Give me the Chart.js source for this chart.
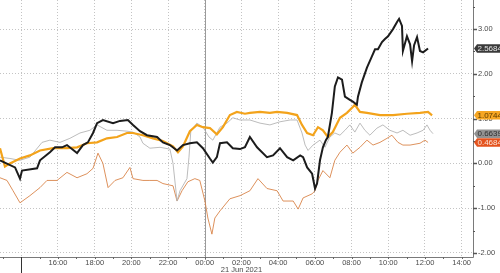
<!DOCTYPE html>
<html>
<head>
<meta charset="utf-8">
<script src="https://cdn.jsdelivr.net/npm/chart.js@4/dist/chart.umd.min.js"></script>
<style>
  html, body { margin: 0; padding: 0; background: #fff; }
  #wrap { width: 500px; height: 273px; }
</style>
</head>
<body>
<div id="wrap"><canvas id="chart" width="500" height="273"></canvas></div>
<script>
// times are hours counted from 20 Jun 2021 00:00 (so 24 = 21 Jun 00:00)
const blackT = [12.84, 13.66, 13.93, 14.04, 14.86, 15.02, 15.56, 15.84, 16.22, 16.49, 17.04, 17.36, 17.63, 17.91, 18.13, 18.45, 19.00, 19.38, 19.81, 20.09, 20.47, 20.85, 21.40, 21.72, 22.10, 22.49, 22.81, 23.19, 23.57, 23.90, 24.28, 24.44, 24.66, 24.83, 25.21, 25.53, 25.92, 26.19, 26.46, 26.85, 27.39, 27.72, 28.10, 28.49, 28.82, 29.20, 29.36, 29.58, 29.85, 30.01, 30.12, 30.28, 30.44, 30.60, 30.71, 30.93, 31.09, 31.26, 31.48, 31.64, 31.91, 32.07, 32.29, 32.35, 32.56, 32.84, 33.11, 33.28, 33.44, 33.66, 33.82, 33.99, 34.26, 34.48, 34.59, 34.75, 34.80, 35.02, 35.19, 35.30, 35.41, 35.57, 35.73, 35.90, 36.17];
const blackV = [0.07, -0.09, -0.34, -0.16, -0.11, 0.07, 0.25, 0.36, 0.36, 0.41, 0.23, 0.41, 0.47, 0.68, 0.90, 0.97, 0.90, 0.95, 0.97, 0.86, 0.72, 0.63, 0.59, 0.47, 0.41, 0.29, 0.41, 0.45, 0.47, 0.34, 0.11, 0.02, 0.14, 0.45, 0.47, 0.34, 0.32, 0.36, 0.59, 0.36, 0.14, 0.18, 0.34, 0.14, 0.07, 0.18, 0.14, -0.09, -0.23, -0.56, -0.45, 0.07, 0.36, 0.52, 0.59, 1.13, 1.72, 1.92, 1.87, 1.49, 1.42, 1.38, 1.31, 1.49, 1.81, 2.14, 2.39, 2.55, 2.55, 2.71, 2.78, 2.84, 3.00, 3.16, 3.23, 3.07, 2.51, 2.84, 2.66, 2.28, 2.64, 2.82, 2.51, 2.48, 2.5684];

const orangeT = [12.84, 13.11, 13.38, 13.93, 14.47, 15.02, 15.73, 16.49, 17.04, 17.58, 18.13, 18.67, 19.22, 19.76, 20.09, 20.63, 21.18, 21.72, 22.27, 22.54, 22.81, 23.19, 23.57, 23.90, 24.28, 24.66, 24.99, 25.37, 25.75, 26.19, 26.46, 27.01, 27.55, 27.94, 28.49, 29.03, 29.30, 29.58, 29.90, 30.17, 30.44, 30.71, 30.98, 31.37, 31.75, 32.07, 32.18, 32.46, 32.84, 33.55, 34.26, 35.02, 35.73, 36.17, 36.39];
const orangeV = [0.34, -0.07, 0.00, 0.11, 0.18, 0.29, 0.34, 0.34, 0.36, 0.45, 0.47, 0.56, 0.59, 0.68, 0.68, 0.63, 0.56, 0.50, 0.38, 0.25, 0.38, 0.72, 0.86, 0.81, 0.79, 0.65, 0.81, 1.08, 1.15, 1.11, 1.13, 1.15, 1.13, 1.15, 1.13, 1.08, 0.86, 0.68, 0.63, 0.81, 0.74, 0.59, 0.70, 1.02, 1.13, 1.26, 1.31, 1.15, 1.13, 1.08, 1.08, 1.11, 1.13, 1.15, 1.0744];

const grayT = [12.84, 13.38, 13.93, 14.47, 15.13, 15.56, 16.11, 16.65, 17.20, 17.74, 18.13, 18.67, 19.22, 19.76, 20.09, 20.47, 20.63, 21.01, 21.56, 22.10, 22.27, 22.49, 22.65, 23.03, 23.14, 23.24, 23.57, 23.90, 24.23, 24.44, 24.83, 25.21, 25.53, 25.92, 26.46, 27.01, 27.55, 28.10, 28.65, 29.03, 29.30, 29.47, 29.63, 29.90, 30.28, 30.55, 30.82, 31.09, 31.37, 31.64, 31.91, 32.18, 32.46, 32.73, 33.00, 33.39, 33.71, 34.09, 34.48, 34.80, 35.19, 35.57, 35.90, 36.11, 36.28, 36.44];
const grayV = [0.14, 0.11, 0.07, 0.14, 0.47, 0.52, 0.47, 0.56, 0.68, 0.74, 0.86, 0.74, 0.74, 0.72, 0.70, 0.59, 0.45, 0.34, 0.36, 0.32, 0.00, -0.84, -0.61, -0.34, 0.14, 0.72, 0.90, 0.81, 0.59, 0.52, 0.81, 0.90, 1.02, 0.97, 0.97, 0.90, 0.86, 0.93, 0.97, 0.97, 0.68, 0.41, 0.29, 0.41, 0.52, 0.36, 0.59, 0.68, 0.63, 0.74, 0.86, 0.70, 0.90, 0.74, 0.63, 0.79, 0.86, 0.74, 0.68, 0.74, 0.63, 0.68, 0.74, 0.86, 0.74, 0.6639];

const copperT = [12.84, 13.22, 13.55, 13.93, 14.47, 15.02, 15.40, 15.95, 16.49, 17.04, 17.58, 17.91, 18.18, 18.45, 18.73, 19.11, 19.54, 19.92, 20.09, 20.63, 21.01, 21.40, 21.72, 22.27, 22.49, 22.76, 23.08, 23.46, 23.73, 24.01, 24.17, 24.39, 24.55, 24.83, 25.37, 25.92, 26.46, 26.90, 27.39, 27.94, 28.27, 28.82, 29.09, 29.36, 29.85, 30.01, 30.17, 30.44, 30.82, 31.09, 31.37, 31.75, 32.07, 32.46, 32.84, 33.17, 33.55, 33.93, 34.20, 34.53, 34.80, 35.19, 35.73, 36.00, 36.17];
const copperV = [-0.32, -0.38, -0.61, -0.88, -0.72, -0.54, -0.38, -0.38, -0.20, -0.32, -0.23, -0.11, 0.23, 0.00, -0.54, -0.38, -0.32, -0.09, -0.34, -0.38, -0.38, -0.38, -0.45, -0.50, -0.84, -0.61, -0.41, -0.34, -0.38, -0.84, -1.22, -1.58, -1.22, -1.06, -0.79, -0.72, -0.61, -0.34, -0.56, -0.61, -0.84, -0.84, -1.02, -0.77, -0.68, -0.61, -0.38, -0.16, -0.32, 0.07, 0.25, 0.41, 0.23, 0.36, 0.52, 0.41, 0.47, 0.56, 0.63, 0.47, 0.41, 0.41, 0.45, 0.52, 0.4684];

const xTicks = [14, 16, 18, 20, 22, 24, 26, 28, 30, 32, 34, 36, 38];
const yTicks = [-2, -1, 0, 1, 2, 3];
const dateLabel = '21 Jun 2021';
const lastValues = [2.5684, 1.0744, 0.6639, 0.4684];

const FONT = "'Liberation Sans', Arial, sans-serif";

function pts(t, v) { return t.map((x, i) => ({ x: x, y: v[i] })); }
function hhmm(h) { return String(h % 24).padStart(2, '0') + ':00'; }

const extras = {
  id: 'extras',
  beforeDatasetsDraw(chart) {
    const { ctx, chartArea: a, scales: { x } } = chart;
    const px = Math.round(x.getPixelForValue(24)) + 0.5;
    ctx.save();
    ctx.strokeStyle = '#9a9a9a';
    ctx.lineWidth = 1;
    ctx.beginPath();
    ctx.moveTo(px, a.top);
    ctx.lineTo(px, a.bottom + 3);
    ctx.stroke();
    ctx.restore();
  },
  afterDraw(chart) {
    const { ctx, chartArea: a, scales: { x, y } } = chart;
    ctx.save();
    // solid axis lines
    ctx.strokeStyle = '#7a7a7a';
    ctx.lineWidth = 1;
    ctx.beginPath();
    ctx.moveTo(0, Math.round(a.bottom) + 0.5);
    ctx.lineTo(Math.round(a.right) + 0.5, Math.round(a.bottom) + 0.5);
    ctx.lineTo(Math.round(a.right) + 0.5, 0);
    ctx.stroke();
    // hourly ticks under the x axis
    ctx.strokeStyle = '#666';
    for (let h = 13; h <= 38; h++) {
      const px = Math.round(x.getPixelForValue(h)) + 0.5;
      ctx.beginPath();
      ctx.moveTo(px, a.bottom);
      ctx.lineTo(px, a.bottom + 2);
      ctx.stroke();
    }
    // day marker
    const dx = Math.round(x.getPixelForValue(14)) + 0.5;
    ctx.strokeStyle = '#333';
    ctx.beginPath();
    ctx.moveTo(dx, a.bottom);
    ctx.lineTo(dx, chart.height);
    ctx.stroke();
    // y ticks on the right axis
    ctx.strokeStyle = '#555';
    for (let v = -2; v <= 3.5; v += 0.5) {
      const py = Math.round(y.getPixelForValue(v)) + 0.5;
      const major = Number.isInteger(v);
      ctx.lineWidth = major ? 1.5 : 1;
      ctx.beginPath();
      ctx.moveTo(a.right, py);
      ctx.lineTo(a.right + (major ? 4 : 2), py);
      ctx.stroke();
    }
    // last value boxes
    const boxStyles = [
      { bg: '#3a3a3a', fg: '#e6e6e6' },
      { bg: '#f6a623', fg: '#5a3b00' },
      { bg: '#929292', fg: '#2e2e2e' },
      { bg: '#e4531e', fg: '#fbe3d6' }
    ];
    ctx.font = '8px ' + FONT;
    ctx.textBaseline = 'middle';
    ctx.textAlign = 'left';
    lastValues.forEach((v, i) => {
      const py = y.getPixelForValue(v);
      const h = 4.3;
      ctx.fillStyle = boxStyles[i].bg;
      ctx.beginPath();
      ctx.moveTo(a.right + 1, py);
      ctx.lineTo(a.right + 4, py - h);
      ctx.lineTo(chart.width, py - h);
      ctx.lineTo(chart.width, py + h);
      ctx.lineTo(a.right + 4, py + h);
      ctx.closePath();
      ctx.fill();
      ctx.fillStyle = boxStyles[i].fg;
      ctx.fillText(v.toFixed(4), a.right + 4.5, py + 0.5);
    });
    ctx.restore();
  }
};

new Chart(document.getElementById('chart'), {
  type: 'line',
  data: {
    datasets: [
      { data: pts(blackT, blackV), borderColor: '#1c1c1c', borderWidth: 2 },
      { data: pts(orangeT, orangeV), borderColor: '#f3a31b', borderWidth: 2.2 },
      { data: pts(grayT, grayV), borderColor: '#b4b4b4', borderWidth: 0.9 },
      { data: pts(copperT, copperV), borderColor: '#d9844a', borderWidth: 0.9 }
    ]
  },
  options: {
    responsive: false,
    animation: false,
    layout: { padding: 0 },
    elements: { point: { radius: 0 }, line: { tension: 0 } },
    plugins: { legend: { display: false }, tooltip: { enabled: false } },
    scales: {
      x: {
        type: 'linear',
        position: 'bottom',
        min: 12.84,
        max: 38.62,
        afterBuildTicks: s => { s.ticks = xTicks.map(v => ({ value: v })); },
        afterFit: s => { s.height = 16; s.paddingLeft = 0; s.paddingRight = 0; },
        grid: { color: '#c4c4c4', lineWidth: 1, drawTicks: false },
        border: { display: false, dash: [1, 2] },
        ticks: {
          autoSkip: false,
          maxRotation: 0,
          padding: 2,
          color: '#4a4a4a',
          font: { family: FONT, size: 7.5, lineHeight: 0.95 },
          callback: v => v === 14 ? '' : (v === 26 ? [hhmm(v), dateLabel] : hhmm(v))
        }
      },
      y: {
        type: 'linear',
        position: 'right',
        min: -2.09,
        max: 3.65,
        afterBuildTicks: s => { s.ticks = yTicks.map(v => ({ value: v })); },
        afterFit: s => { s.width = 27; s.paddingTop = 0; s.paddingBottom = 0; },
        grid: { color: '#c4c4c4', lineWidth: 1, drawTicks: false },
        border: { display: false, dash: [1, 2] },
        ticks: {
          padding: 5,
          color: '#4a4a4a',
          font: { family: FONT, size: 7.5 },
          callback: v => v.toFixed(2)
        }
      }
    }
  },
  plugins: [extras]
});
</script>
</body>
</html>
